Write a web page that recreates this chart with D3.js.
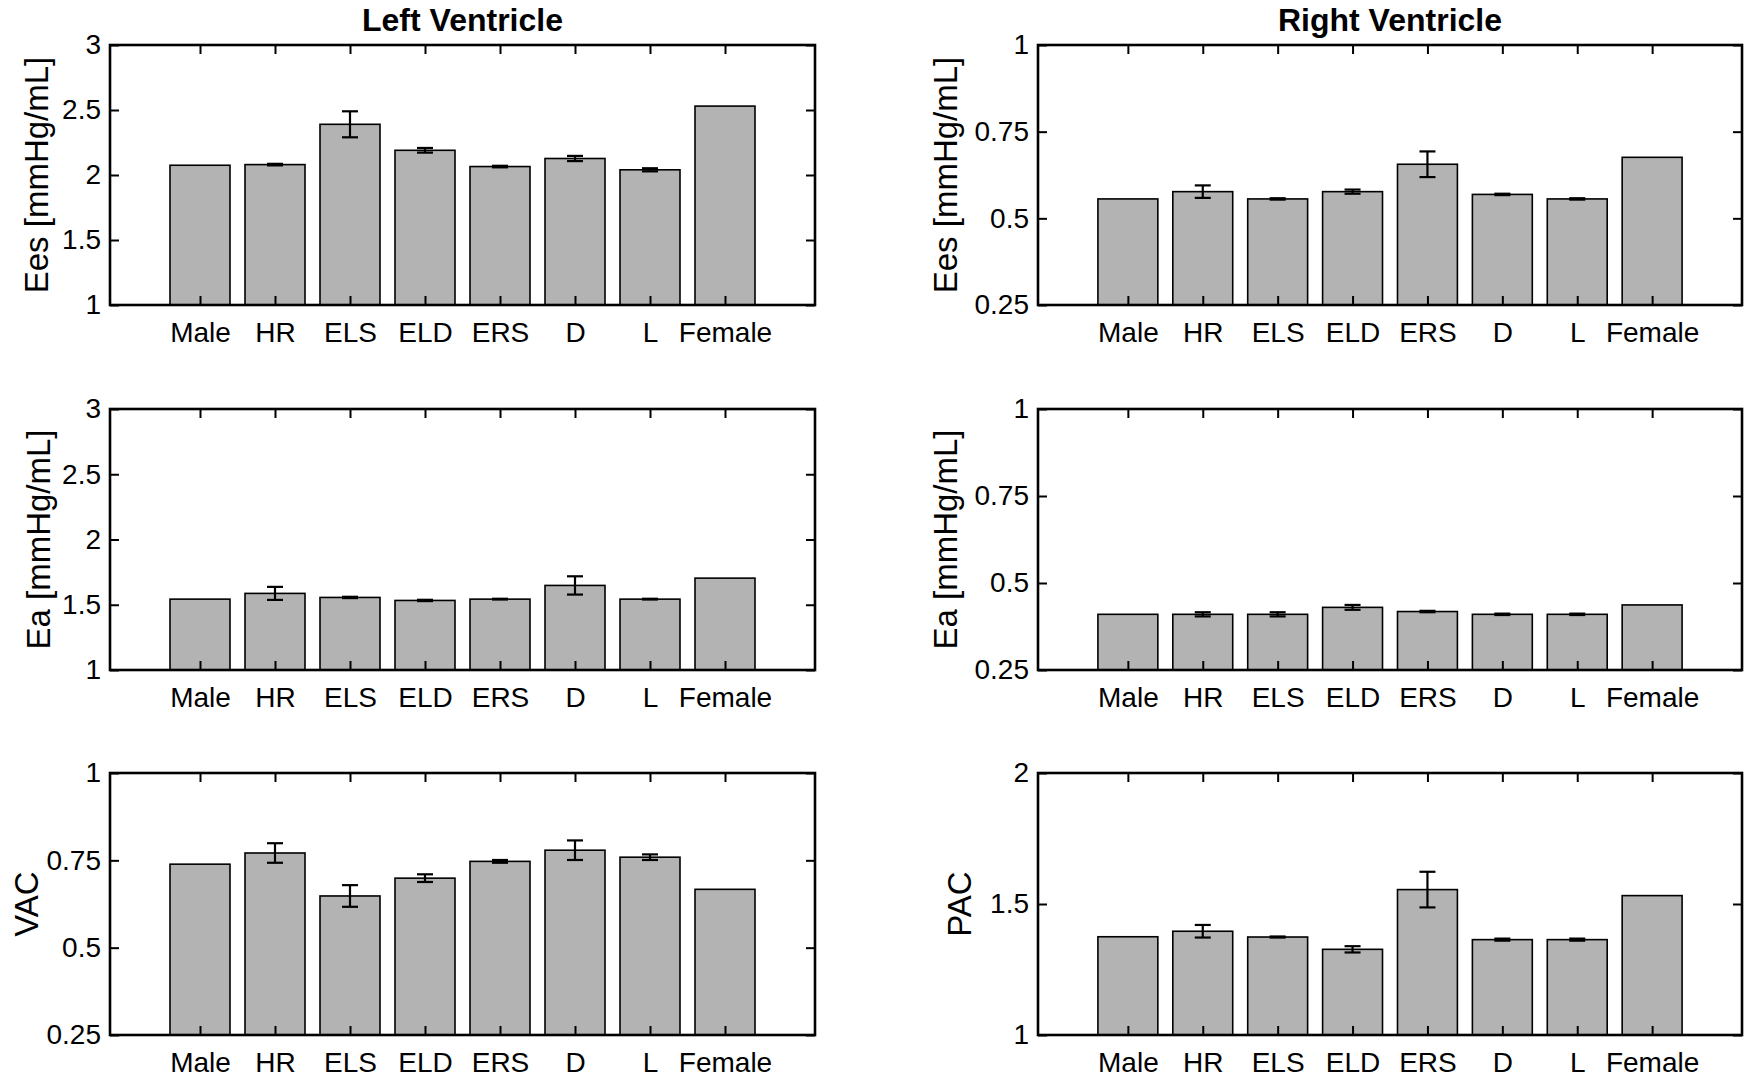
<!DOCTYPE html>
<html>
<head>
<meta charset="utf-8">
<script src="https://cdn.jsdelivr.net/npm/d3@7"></script>
<style>
  html, body { margin: 0; padding: 0; background: #fff; }
  svg text { font-family: "Liberation Sans", Arial, Helvetica, sans-serif; fill: #000; }
</style>
</head>
<body>
<svg id="chart" width="1750" height="1084"></svg>
<script>
// ---------------- data ----------------
const categories = ["Male", "HR", "ELS", "ELD", "ERS", "D", "L", "Female"];

const lvEes    = [2.075, 2.08, 2.39, 2.19, 2.065, 2.127, 2.04, 2.53];
const lvEesErr = [null, 0.006, 0.10, 0.018, 0.006, 0.02, 0.012, null];

const rvEes    = [0.556, 0.577, 0.556, 0.577, 0.656, 0.569, 0.556, 0.676];
const rvEesErr = [null, 0.018, 0.002, 0.006, 0.037, 0.002, 0.002, null];

const lvEa     = [1.543, 1.587, 1.556, 1.533, 1.543, 1.648, 1.543, 1.704];
const lvEaErr  = [null, 0.05, 0.005, 0.005, 0.003, 0.07, 0.003, null];

const rvEa     = [0.410, 0.410, 0.410, 0.430, 0.418, 0.410, 0.410, 0.437];
const rvEaErr  = [null, 0.006, 0.006, 0.007, 0.002, 0.002, 0.002, null];

const lvVac    = [0.739, 0.771, 0.648, 0.699, 0.747, 0.779, 0.759, 0.667];
const lvVacErr = [null, 0.028, 0.031, 0.011, 0.004, 0.028, 0.008, null];

const rvPac    = [1.375, 1.396, 1.374, 1.327, 1.555, 1.364, 1.364, 1.532];
const rvPacErr = [null, 0.024, 0.002, 0.012, 0.068, 0.004, 0.004, null];

const ticksEesLV = [1, 1.5, 2, 2.5, 3];
const ticksRV    = [0.25, 0.5, 0.75, 1];
const ticksVAC   = [0.25, 0.5, 0.75, 1];
const ticksPAC   = [1, 1.5, 2];

const columnTitles = ["Left Ventricle", "Right Ventricle"];

// ---------------- layout ----------------
const colX = [[110, 815], [1038, 1742]];
const rowY = [[45, 305], [409, 670], [773, 1035]];

const panels = [
  { col: 0, row: 0, values: lvEes, errs: lvEesErr, domain: [1, 3], ticks: ticksEesLV, ylabel: "Ees [mmHg/mL]", ylabX: 48 },
  { col: 1, row: 0, values: rvEes, errs: rvEesErr, domain: [0.25, 1], ticks: ticksRV, ylabel: "Ees [mmHg/mL]", ylabX: 957 },
  { col: 0, row: 1, values: lvEa, errs: lvEaErr, domain: [1, 3], ticks: ticksEesLV, ylabel: "Ea [mmHg/mL]", ylabX: 50 },
  { col: 1, row: 1, values: rvEa, errs: rvEaErr, domain: [0.25, 1], ticks: ticksRV, ylabel: "Ea [mmHg/mL]", ylabX: 957 },
  { col: 0, row: 2, values: lvVac, errs: lvVacErr, domain: [0.25, 1], ticks: ticksVAC, ylabel: "VAC", ylabX: 38 },
  { col: 1, row: 2, values: rvPac, errs: rvPacErr, domain: [1, 2], ticks: ticksPAC, ylabel: "PAC", ylabX: 971 }
];

const svg = d3.select("#chart");
svg.append("rect").attr("width", 1750).attr("height", 1084).attr("fill", "#fff");

const fmt = d => String(d);

panels.forEach(p => {
  const [x0, x1] = colX[p.col];
  const [y0, y1] = rowY[p.row];
  const idx = categories.map((c, i) => i);

  const x = d3.scaleLinear().domain([-1.2, categories.length - 1 + 1.2]).range([x0, x1]);
  const y = d3.scaleLinear().domain(p.domain).range([y1, y0]);
  const bw = x(0.8) - x(0);

  const g = svg.append("g");

  // bars
  g.selectAll("rect.bar").data(idx).join("rect")
    .attr("class", "bar")
    .attr("x", i => x(i) - bw / 2)
    .attr("width", bw)
    .attr("y", i => y(p.values[i]))
    .attr("height", i => y(p.domain[0]) - y(p.values[i]))
    .attr("fill", "#b3b3b3")
    .attr("stroke", "#000")
    .attr("stroke-width", 1.6);

  // error bars
  const eb = idx.filter(i => p.errs[i] != null);
  const capW = 8;
  const eg = g.append("g").attr("stroke", "#000").attr("stroke-width", 2.2).attr("fill", "none");
  eg.selectAll("line.v").data(eb).join("line")
    .attr("x1", i => x(i)).attr("x2", i => x(i))
    .attr("y1", i => y(p.values[i] - p.errs[i])).attr("y2", i => y(p.values[i] + p.errs[i]));
  eg.selectAll("line.t").data(eb).join("line")
    .attr("x1", i => x(i) - capW).attr("x2", i => x(i) + capW)
    .attr("y1", i => y(p.values[i] + p.errs[i])).attr("y2", i => y(p.values[i] + p.errs[i]));
  eg.selectAll("line.b").data(eb).join("line")
    .attr("x1", i => x(i) - capW).attr("x2", i => x(i) + capW)
    .attr("y1", i => y(p.values[i] - p.errs[i])).attr("y2", i => y(p.values[i] - p.errs[i]));

  // axes (inward ticks on all four sides)
  const styleAxis = sel => {
    sel.select(".domain").remove();
    sel.selectAll(".tick line").attr("stroke", "#000").attr("stroke-width", 2);
    sel.selectAll(".tick text").attr("font-size", 28).attr("fill", "#000");
  };

  g.append("g").attr("transform", `translate(0,${y1})`)
    .call(d3.axisBottom(x).tickValues(idx).tickFormat(i => categories[i]).tickSize(-9).tickPadding(17))
    .call(styleAxis);
  g.append("g").attr("transform", `translate(0,${y0})`)
    .call(d3.axisTop(x).tickValues(idx).tickFormat("").tickSize(-9))
    .call(styleAxis);
  g.append("g").attr("transform", `translate(${x0},0)`)
    .call(d3.axisLeft(y).tickValues(p.ticks).tickFormat(fmt).tickSize(-9).tickPadding(9))
    .call(styleAxis);
  g.append("g").attr("transform", `translate(${x1},0)`)
    .call(d3.axisRight(y).tickValues(p.ticks).tickFormat("").tickSize(-9))
    .call(styleAxis);

  g.selectAll("text").attr("font-family", "'Liberation Sans', Arial, sans-serif");

  // box
  g.append("rect")
    .attr("x", x0).attr("y", y0)
    .attr("width", x1 - x0).attr("height", y1 - y0)
    .attr("fill", "none").attr("stroke", "#000").attr("stroke-width", 2.6);

  // y label
  g.append("text")
    .attr("transform", `translate(${p.ylabX},${(y0 + y1) / 2}) rotate(-90)`)
    .attr("text-anchor", "middle")
    .attr("font-size", 33)
    .text(p.ylabel);
});

// column titles
columnTitles.forEach((t, c) => {
  svg.append("text")
    .attr("x", (colX[c][0] + colX[c][1]) / 2)
    .attr("y", 31)
    .attr("text-anchor", "middle")
    .attr("font-size", 32)
    .attr("font-weight", "bold")
    .text(t);
});
</script>
</body>
</html>
